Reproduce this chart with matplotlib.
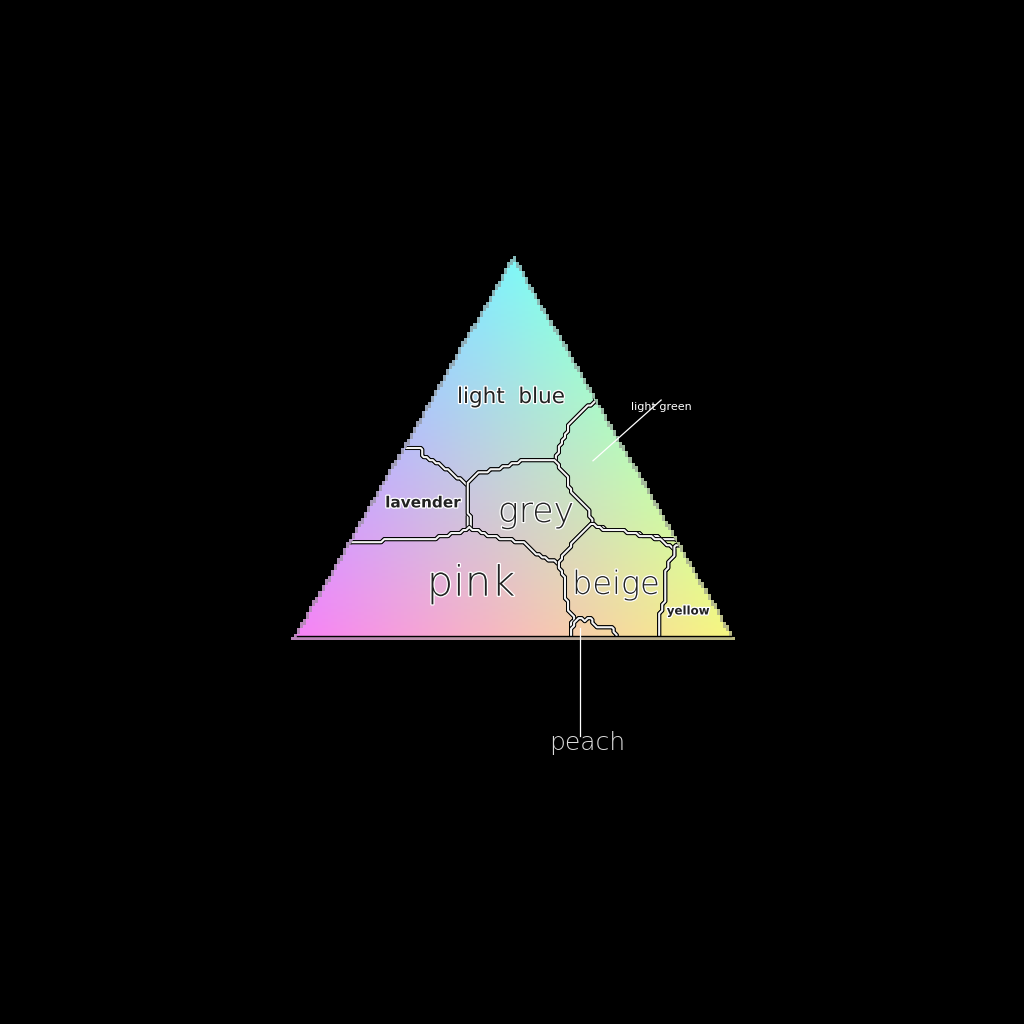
import matplotlib
matplotlib.use("Agg")
import matplotlib.pyplot as plt
import matplotlib.patheffects as pe
from matplotlib.path import Path
from matplotlib.patches import Polygon
import numpy as np

# triangle corners (base 0..100) and their colours: cyan top, magenta left, yellow right
corner_top = (50.0, 86.6)
corner_left = (0.0, 0.0)
corner_right = (100.0, 0.0)
color_top = (0.50, 0.97, 0.97)
color_left = (0.97, 0.51, 0.97)
color_right = (0.97, 0.97, 0.50)

# colour regions, painted in this order (light blue is the background)
region_names = ["light blue", "light green", "lavender", "grey", "pink", "beige", "yellow", "peach"]
light_green_poly = [(74.4, 61.5), (68.2, 54.1), (62.9, 49.3), (62.2, 47.0), (60.6, 43.8),
                    (59.4, 40.6), (62.2, 36.9), (62.9, 33.9), (66.8, 30.0), (68.7, 25.3),
                    (115.9, 17.7), (115.9, 61.5)]
lavender_poly = [(-10, 43.8), (28.3, 43.8), (29.0, 41.9), (32.3, 40.1), (35.3, 38.0),
                 (39.2, 35.0), (39.4, 25.1), (37.6, 24.2), (34.6, 23.5), (32.3, 22.8),
                 (13.4, 21.9), (-10, 21.9)]
grey_poly = [(39.2, 35.5), (41.5, 37.8), (45.2, 38.5), (49.1, 39.6), (51.8, 40.6),
             (59.4, 40.6), (62.2, 36.9), (62.9, 33.9), (66.8, 30.0), (68.0, 26.3),
             (65.9, 24.0), (63.6, 21.7), (61.8, 19.4), (60.1, 17.1), (56.0, 18.7),
             (52.1, 21.7), (43.8, 23.5), (39.9, 25.1)]
pink_poly = [(-10, 21.9), (13.4, 21.9), (32.3, 22.8), (34.6, 23.5), (37.6, 24.2),
             (39.9, 25.1), (43.8, 23.5), (52.1, 21.7), (56.0, 18.7), (60.1, 17.1),
             (61.1, 15.0), (61.8, 12.7), (62.2, 6.9), (63.6, 4.6), (63.4, 2.3),
             (62.9, -5), (-10, -5)]
beige_poly = [(60.1, 17.1), (61.8, 19.4), (63.6, 21.7), (65.9, 24.0), (68.0, 26.3),
              (70.5, 24.7), (77.4, 24.2), (79.0, 23.3), (82.9, 22.8), (86.6, 20.7),
              (87.1, 19.4), (85.3, 16.8), (84.8, 8.8), (83.6, 5.1), (82.9, -5),
              (62.9, -5), (63.4, 2.3), (63.6, 4.6), (62.2, 6.9), (61.8, 12.7), (61.1, 15.0)]
yellow_poly = [(86.6, 20.7), (88.5, 21.2), (120, 21.2), (120, -5), (82.9, -5),
               (83.6, 5.1), (84.8, 8.8), (85.3, 16.8), (87.1, 19.4)]
peach_poly = [(63.4, 2.3), (65.2, 4.8), (66.4, 3.9), (67.5, 4.4), (69.1, 2.3),
              (72.6, 2.1), (74.0, 0.0), (74.0, -5), (63.4, -5)]
region_polys = [None, light_green_poly, lavender_poly, grey_poly, pink_poly,
                beige_poly, yellow_poly, peach_poly]

# label text, position, size, style
label_pos = {"light blue": (49.3, 55.3), "lavender": (29.0, 30.9), "grey": (55.1, 28.8),
             "pink": (40.1, 12.4), "beige": (73.5, 12.0), "yellow": (90.1, 6.0)}
label_size = {"light blue": 15.5, "lavender": 11, "grey": 25, "pink": 30, "beige": 23, "yellow": 8.5}
label_weight = {"light blue": "normal", "lavender": "bold", "grey": "light",
                "pink": "light", "beige": "light", "yellow": "bold"}
# callouts for the small regions: (text, anchor, text position, line end, size, colour)
callouts = [("light green", (68.2, 40.6), (83.9, 53.0), (83.9, 54.6), 8, "white"),
            ("peach", (65.2, 2.1), (66.8, -24.4), (65.2, -22.8), 18, "#dcdcdc")]

plt.rcParams["font.family"] = ["DejaVu Sans"]

fig = plt.figure(figsize=(10.24, 10.24), dpi=100, facecolor="black")
ax = fig.add_axes([0, 0, 1, 1])
ax.set_facecolor("black")
scale = 4.34  # pixels per unit
ax.set_xlim(-297 / scale, (1024 - 297) / scale)
ax.set_ylim(-387 / scale, 637 / scale)
ax.axis("off")

# coarse grid, gives the stepped look
step = 0.7
xs = np.arange(-3, 103, step)
ys = np.arange(-3, 90, step)
X, Y = np.meshgrid(xs, ys)
w_top = Y / corner_top[1]
w_right = (X - corner_top[0] * w_top) / corner_right[0]
w_left = 1 - w_top - w_right

rgb = np.zeros(X.shape + (3,))
for k in range(3):
    rgb[..., k] = np.clip(w_top * color_top[k] + w_left * color_left[k] + w_right * color_right[k], 0, 1)
inside = (w_top >= 0) & (w_right >= 0) & (w_left >= 0)
glow = (w_top >= -0.008) & (w_right >= -0.008) & (w_left >= -0.008) & ~inside
glow_rgb = np.clip(rgb * 0.6 + 0.4, 0, 1)
img = np.where(glow[..., None], glow_rgb, rgb)
alpha = np.where(inside, 1.0, np.where(glow, 0.75, 0.0))
rgba = np.dstack([img, alpha])
extent = [xs[0] - step / 2, xs[-1] + step / 2, ys[0] - step / 2, ys[-1] + step / 2]
ax.imshow(rgba, extent=extent, origin="lower", interpolation="nearest", zorder=1)

# assign every cell to a region
pts = np.column_stack([X.ravel(), Y.ravel()])
labels = np.zeros(X.size, dtype=int)
for idx, poly in enumerate(region_polys):
    if poly is None:
        continue
    labels[Path(poly).contains_points(pts)] = idx
labels = labels.reshape(X.shape)

tri = Polygon([corner_left, corner_right, corner_top], closed=True,
              transform=ax.transData, facecolor="none", edgecolor="none")
ax.add_patch(tri)
border_fx = [pe.Stroke(linewidth=2.9, foreground="black"),
             pe.Stroke(linewidth=1.5, foreground="#f4f4f4")]
for idx in range(len(region_names)):
    mask = (labels == idx).astype(float)
    cs = ax.contour(X, Y, mask, levels=[0.5], colors="black", linewidths=1, zorder=2)
    cs.set_clip_path(tri)
    cs.set_path_effects(border_fx)

# bottom edge
ax.plot([corner_left[0], corner_right[0]], [0.25, 0.25], color="black", lw=1.0, zorder=3)

text_fx = [pe.withStroke(linewidth=1.8, foreground="white")]
for name, (tx, ty) in label_pos.items():
    ax.text(tx, ty, name.replace(" ", "  "), ha="center", va="center", fontsize=label_size[name],
            fontweight=label_weight[name], color="#222222", path_effects=text_fx, zorder=5)

for name, anchor, tpos, lend, size, col in callouts:
    ax.plot([anchor[0], lend[0]], [anchor[1], lend[1]], color="white", lw=0.9, zorder=4)
    ax.text(tpos[0], tpos[1], name, ha="center", va="center", fontsize=size,
            fontweight="light" if size > 10 else "normal", color=col, zorder=5)

fig.savefig("out.png", dpi=100, facecolor="black")
